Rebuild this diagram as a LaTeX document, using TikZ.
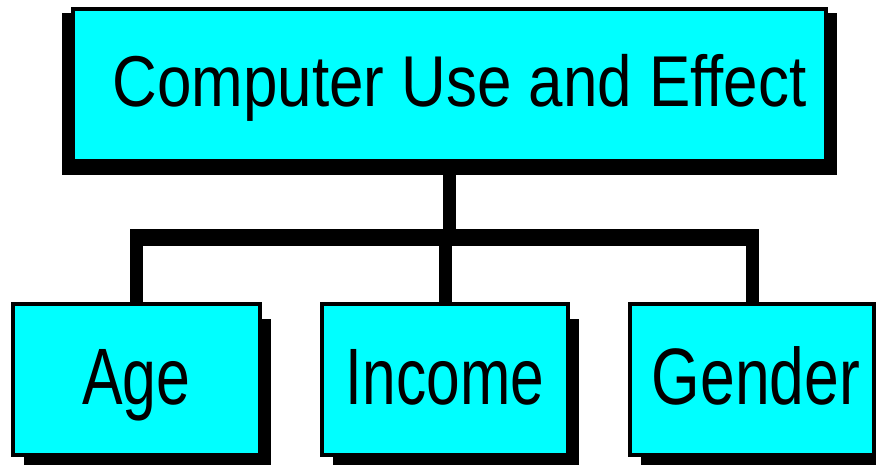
\documentclass[tikz,border=0pt]{standalone}
\usepackage{fontspec}
\setmainfont{Liberation Sans}
\usepackage{graphicx}
\usetikzlibrary{backgrounds}
\definecolor{boxcyan}{RGB}{0,255,255}

\begin{document}
\begin{tikzpicture}[x=1pt, y=-1pt,
    topic/.style={draw, line width=4pt, fill=boxcyan, inner sep=0pt, minimum width=753pt, minimum height=152pt, text height=55pt, text depth=12pt, font=\fontsize{72}{72}\selectfont},
    factor/.style={draw, line width=4pt, fill=boxcyan, inner sep=0pt, minimum height=151pt, text height=60pt, text depth=11pt, font=\fontsize{80}{80}\selectfont},
    link/.style={line width=13pt},
    bar/.style={line width=17pt}
]
\useasboundingbox (0,0) rectangle (876,465);

% Main topic
\node[topic] (top) at (449.5,85) {\hspace*{20pt}\scalebox{0.86}[1]{Computer Use and Effect}};

% Factors
\node[factor, minimum width=247pt] (age) at (136.5,379.5) {\scalebox{0.76}[1]{Age}};
\node[factor, minimum width=246pt] (income) at (445,379.5) {\scalebox{0.755}[1]{Income}};
\node[factor, minimum width=244pt] (gender) at (752,379.5) {\hspace*{8pt}\scalebox{0.78}[1]{Gender}};

% Shadows
\begin{scope}[on background layer]
\fill ([xshift=-9pt,yshift=-6pt]top.north west) rectangle ([xshift=9pt,yshift=-12pt]top.south east);
\foreach \n in {age,income,gender}
  \fill ([xshift=13pt,yshift=-17pt]\n.north west) rectangle ([xshift=9pt,yshift=-8pt]\n.south east);
\end{scope}

% Tree connectors
\coordinate (bar) at (448,238);
\draw[link] (top.south) -- (top.south |- bar);
\draw[bar, shorten <=-6.5pt, shorten >=-6.5pt] (age.north |- bar) -- (gender.north |- bar);
\foreach \n in {age,income,gender}
  \draw[link] (\n.north) -- (\n.north |- bar);

\end{tikzpicture}
\end{document}
